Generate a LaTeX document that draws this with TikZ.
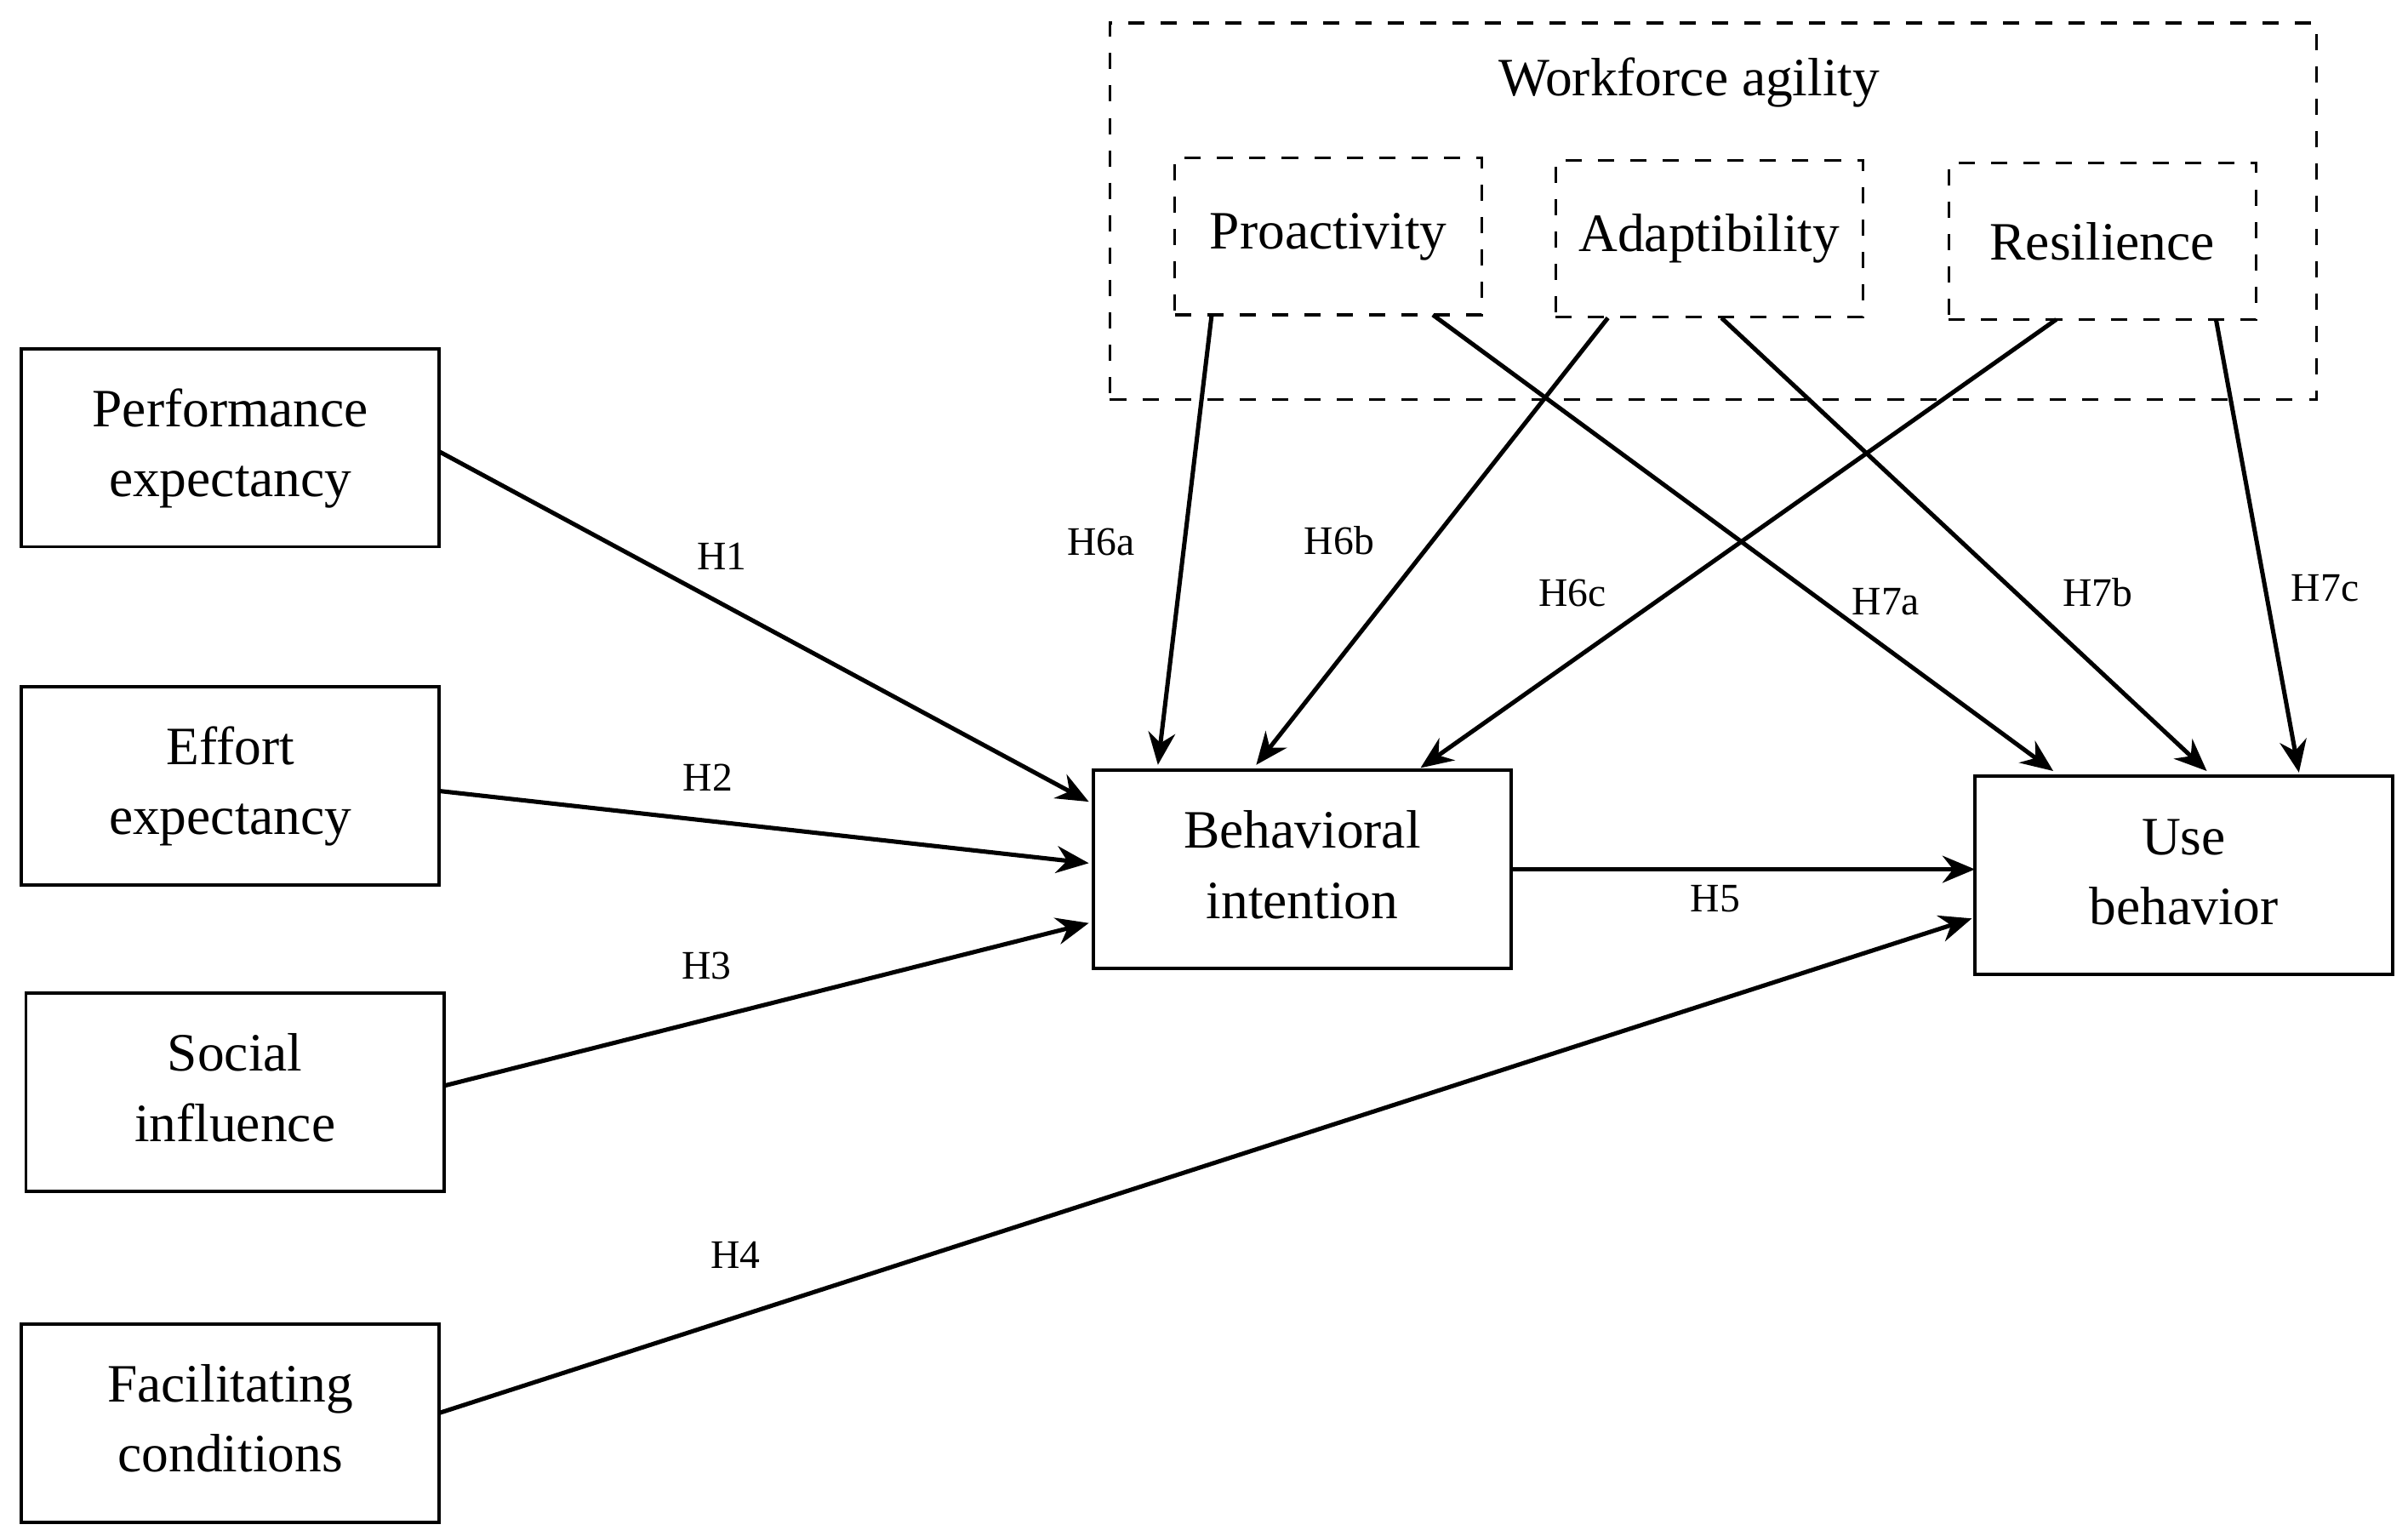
\documentclass[tikz,border=0pt]{standalone}
\usepackage{fontspec}
\setmainfont{Liberation Serif}
\usetikzlibrary{arrows.meta}
\newcommand{\twol}[2]{\raisebox{-3pt}{\begin{tabular}{@{}c@{}}#1\\#2\end{tabular}}}
\begin{document}
\begin{tikzpicture}[x=0.01cm,y=-0.01cm,
  box/.style={draw,line width=0.6pt,minimum width=2.72cm,minimum height=1.29cm,align=center,font=\fontsize{10}{13}\selectfont,inner sep=0pt},
  dbox/.style={draw,dashed,line width=0.5pt,minimum width=2cm,minimum height=1.02cm,align=center,font=\fontsize{10}{13}\selectfont,inner sep=0pt},
  arr/.style={-{Stealth[length=6pt,width=5pt]},line width=0.8pt},
  lab/.style={font=\fontsize{7.5}{9}\selectfont}]
\useasboundingbox (0,0) rectangle (1568,1000);
\node[box] (pe) at (150,291.5) {\twol{Performance}{expectancy}};
\node[box] (ee) at (150,511.5) {\twol{Effort}{expectancy}};
\node[box] (si) at (153,711) {\twol{Social}{influence}};
\node[box] (fc) at (150,926.5) {\twol{Facilitating}{conditions}};
\node[box] (bi) at (848,566) {\twol{Behavioral}{intention}};
\node[box] (ub) at (1422,570) {\twol{Use}{behavior}};
\node[draw,dashed,line width=0.5pt,minimum width=7.85cm,minimum height=2.45cm] (wa) at (1115.5,137.5) {};
\node[font=\fontsize{10}{13}\selectfont] (wal) at (1100,54) {Workforce agility};
\node[dbox] (pr) at (865,154) {\raisebox{-2pt}{Proactivity}};
\node[dbox] (ad) at (1113,155.5) {\raisebox{-2pt}{Adaptibility}};
\node[dbox] (re) at (1369,157) {\raisebox{-2pt}{Resilience}};
\coordinate (pe1) at (286,294); \coordinate (bi1) at (709,522);
\coordinate (ee1) at (286,515); \coordinate (bi2) at (709,562);
\coordinate (si1) at (289,707); \coordinate (bi3) at (709,601);
\coordinate (fc1) at (286,920); \coordinate (ub1) at (1284,598);
\coordinate (bi4) at (984,566); \coordinate (ub2) at (1286,566);
\coordinate (pr1) at (789,205); \coordinate (bi5) at (754,498);
\coordinate (pr2) at (933,205); \coordinate (ub3) at (1337,502);
\coordinate (ad1) at (1047,207); \coordinate (bi6) at (818,498);
\coordinate (ad2) at (1121,207); \coordinate (ub4) at (1437,502);
\coordinate (re1) at (1339,208); \coordinate (bi7) at (925,500);
\coordinate (re2) at (1443,208); \coordinate (ub5) at (1497,503);
\draw[arr] (pe1) -- (bi1);
\draw[arr] (ee1) -- (bi2);
\draw[arr] (si1) -- (bi3);
\draw[arr] (fc1) -- (ub1);
\draw[arr] (bi4) -- (ub2);
\draw[arr] (pr1) -- (bi5);
\draw[arr] (pr2) -- (ub3);
\draw[arr] (ad1) -- (bi6);
\draw[arr] (ad2) -- (ub4);
\draw[arr] (re1) -- (bi7);
\draw[arr] (re2) -- (ub5);
\node[lab] (h1) at (470,362) {H1};
\node[lab] (h2) at (461,506) {H2};
\node[lab] (h3) at (460,629) {H3};
\node[lab] (h4) at (479,817) {H4};
\node[lab] (h5) at (1117,585) {H5};
\node[lab] (h6a) at (717,353) {H6a};
\node[lab] (h6b) at (872,352) {H6b};
\node[lab] (h6c) at (1024,386) {H6c};
\node[lab] (h7a) at (1228,392) {H7a};
\node[lab] (h7b) at (1366,386) {H7b};
\node[lab] (h7c) at (1514,383) {H7c};
\end{tikzpicture}
\end{document}
